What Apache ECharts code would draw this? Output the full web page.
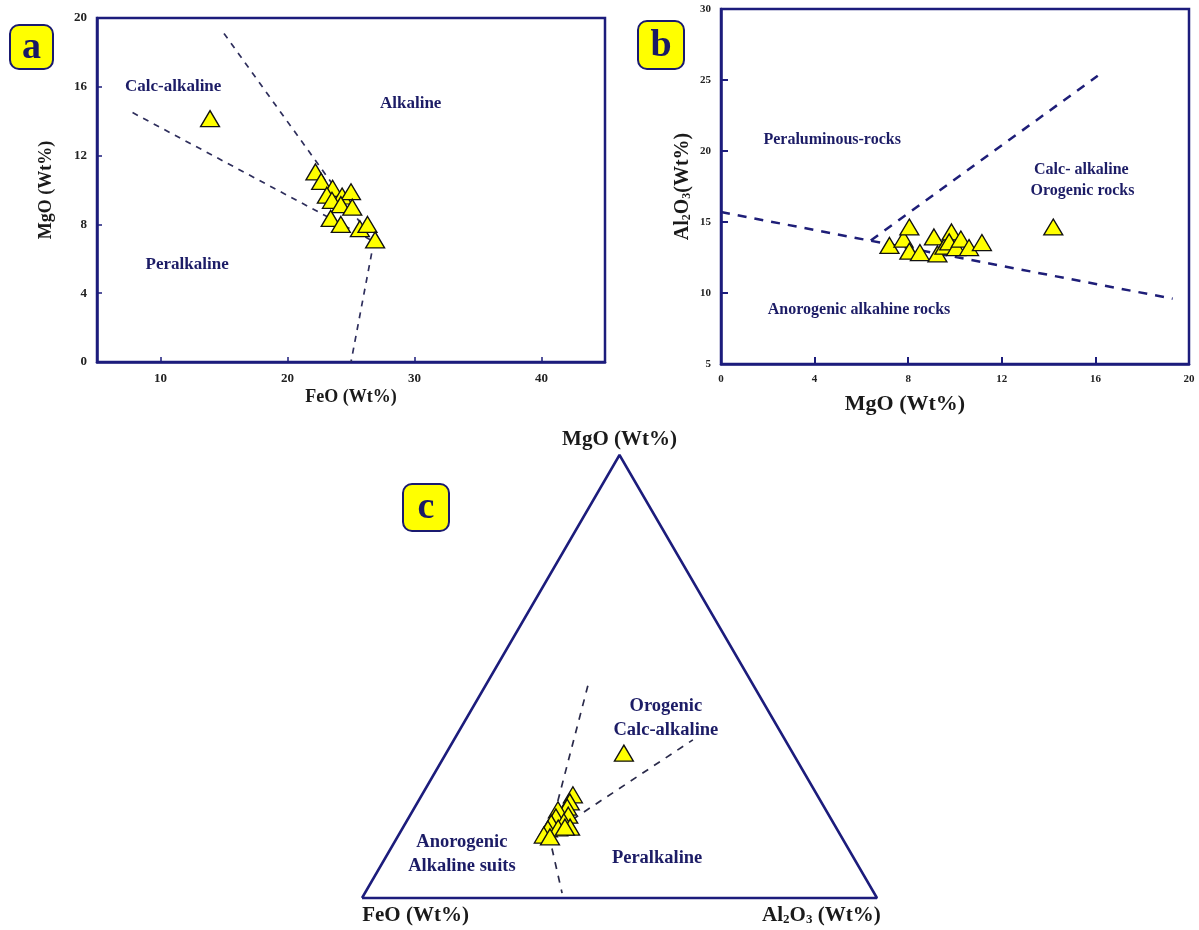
<!DOCTYPE html>
<html><head><meta charset="utf-8">
<script src="https://cdn.jsdelivr.net/npm/echarts@6/dist/echarts.min.js"></script>
<style>html,body{margin:0;padding:0;background:#fff}#c{width:1199px;height:930px}</style>
</head><body><div id="c"></div>
<script>
// ---------- Panel a: FeO vs MgO ----------
const feoA = [22.2, 22.65, 23.55, 23.1, 24.3, 25.0, 23.5, 24.2, 25.1, 23.4, 24.2, 25.7, 26.3, 26.9, 13.9];
const mgoA = [11.05, 10.5, 10.1, 9.7, 9.65, 9.9, 9.4, 9.15, 9.0, 8.35, 8.0, 7.75, 8.0, 7.1, 14.15];
const ticksAX = [10, 20, 30, 40];
const boundaryA1 = [[15, 19.1], [26.8, 7.0]];
const boundaryA2 = [[7.8, 14.5], [26.8, 7.0]];
const boundaryA3 = [[26.8, 7.0], [25, 0]];

// ---------- Panel b: MgO vs Al2O3 ----------
const mgoB = [7.2, 7.8, 8.05, 8.05, 8.5, 9.1, 9.25, 9.55, 9.85, 9.75, 10.05, 10.25, 10.6, 11.15, 14.2];
const al2o3B = [13.35, 13.8, 14.65, 12.95, 12.85, 13.95, 12.75, 13.3, 14.3, 13.6, 13.2, 13.8, 13.2, 13.55, 14.65];
const boundaryB1 = [[0, 15.7], [19.3, 9.6]];
const boundaryB2 = [[6.4, 13.7], [16.1, 25.3]];

// ---------- Panel c: ternary FeO - MgO - Al2O3 (normalised %) ----------
const feoC = [47.4, 48.8, 49.9, 52.0, 50.6, 53.2, 52.2, 54.8, 51.6, 56.1, 54.0, 57.6, 56.6, 52.6, 32.8];
const mgoC = [23.3, 21.7, 20.5, 19.9, 18.7, 18.3, 17.2, 16.9, 16.0, 15.6, 15.8, 14.2, 13.8, 16.0, 32.7];
const al2o3C = [29.3, 29.5, 29.6, 28.1, 30.7, 28.5, 30.6, 28.3, 32.4, 28.3, 30.2, 28.2, 29.6, 31.4, 34.5];
// boundaries as [FeO, MgO, Al2O3]
const boundaryC1 = [[32.2, 47.9, 19.9], [56.6, 14.2, 29.2], [60.6, 1.1, 38.3]];
const boundaryC2 = [[56.6, 14.2, 29.2], [17.9, 35.7, 46.4]];
const triangleC = [[100, 0, 0], [0, 0, 100], [0, 100, 0], [100, 0, 0]];

// ---------- helpers ----------
const SERIF = "'Liberation Serif','Times New Roman',serif";
const NAVY = '#1c1c7c';
const TXT = '#1c1c66';
function tern(fe, mg, al) { const s = fe + mg + al; return [(al + mg / 2) / s, mg / s]; }
function zip(a, b) { return a.map((v, i) => [v, b[i]]); }

const triStyle = { color: '#ffff00', borderColor: '#111', borderWidth: 1.3, opacity: 1 };
function scatter(gi, data) {
  return { type: 'scatter', xAxisIndex: gi, yAxisIndex: gi, data: data, symbol: 'triangle',
    symbolSize: [19, 16], itemStyle: triStyle, z: 5, silent: true, clip: false };
}
function dashed(gi, data, color, width, dash) {
  return { type: 'line', xAxisIndex: gi, yAxisIndex: gi, data: data, symbol: 'none', silent: true,
    lineStyle: { color: color, width: width, type: dash }, z: 3, clip: false };
}
function labels(gi, items, size, lh) {
  return { type: 'scatter', xAxisIndex: gi, yAxisIndex: gi, symbolSize: 0, silent: true, z: 6, clip: false,
    itemStyle: { opacity: 1 },
    data: items.map(it => ({ value: [it[1], it[2]], name: it[0] })),
    label: { show: true, position: 'inside', formatter: p => p.name, fontFamily: SERIF, fontWeight: 'bold',
      fontSize: size, color: TXT, lineHeight: lh || size + 6 } };
}

const labelsA = [['Calc-alkaline', 11.0, 16.0], ['Alkaline', 29.7, 15.05], ['Peralkaline', 12.1, 5.65]];
const labelsB = [['Peraluminous-rocks', 4.75, 20.75], ['Calc- alkaline', 15.4, 18.65], ['Orogenic rocks', 15.45, 17.2], ['Anorogenic alkahine rocks', 5.9, 8.8]];
const labelsC = [['Orogenic\nCalc-alkaline', 0.59, 0.406], ['Peralkaline', 0.573, 0.09], ['Anorogenic\nAlkaline suits', 0.194, 0.099]];

const axisNameStyle = (sz) => ({ fontFamily: SERIF, fontWeight: 'bold', fontSize: sz, color: '#1a1a1a',
  rich: { b: { fontFamily: SERIF, fontWeight: 'bold', fontSize: sz, color: '#1a1a1a' },
          s: { fontFamily: SERIF, fontWeight: 'bold', fontSize: Math.round(sz * 0.62), color: '#1a1a1a', padding: [0, 0, -7, 0] } } });
const tickLbl = (sz, m) => ({ fontFamily: SERIF, fontWeight: 'bold', fontSize: sz, color: '#222', margin: m });
const aLine = { onZero: false, lineStyle: { color: NAVY, width: 2.5 } };

function badge(x, y, w, h, letter) {
  return { type: 'group', left: x, top: y, children: [
    { type: 'rect', shape: { x: 0, y: 0, width: w, height: h, r: 9 }, style: { fill: '#ffff00', stroke: '#1a1a70', lineWidth: 2 } },
    { type: 'text', x: w / 2, y: h / 2 + 1, style: { text: letter, fill: '#1a1a66', font: "bold 38px 'Liberation Serif'", align: 'center', verticalAlign: 'middle' } }
  ] };
}

const option = {
  animation: false,
  backgroundColor: '#fff',
  grid: [
    { left: 97, top: 18, width: 508, height: 344, show: true, borderColor: NAVY, borderWidth: 2.5 },
    { left: 721, top: 9, width: 468, height: 355, show: true, borderColor: NAVY, borderWidth: 2.5 },
    { left: 362, top: 455, width: 515, height: 443, show: false }
  ],
  xAxis: [
    { gridIndex: 0, type: 'value', min: 5, max: 45, name: 'FeO (Wt%)', nameLocation: 'middle', nameGap: 26,
      nameTextStyle: axisNameStyle(18), axisLine: aLine,
      axisTick: { inside: true, length: 5, customValues: ticksAX, lineStyle: { color: NAVY, width: 1.5 } },
      axisLabel: Object.assign({ customValues: ticksAX }, tickLbl(13, 10)), splitLine: { show: false } },
    { gridIndex: 1, type: 'value', min: 0, max: 20, interval: 4, name: 'MgO (Wt%)', nameLocation: 'middle', nameGap: 29,
      nameTextStyle: Object.assign(axisNameStyle(22), { padding: [0, 100, 0, 0] }), axisLine: aLine,
      axisTick: { inside: true, length: 7, lineStyle: { color: NAVY, width: 2 } },
      axisLabel: tickLbl(11, 10), splitLine: { show: false } },
    { gridIndex: 2, type: 'value', min: 0, max: 1, show: false }
  ],
  yAxis: [
    { gridIndex: 0, type: 'value', min: 0, max: 20, interval: 4, name: 'MgO (Wt%)', nameLocation: 'middle', nameGap: 42,
      nameTextStyle: axisNameStyle(18), axisLine: aLine,
      axisTick: { inside: true, length: 5, lineStyle: { color: NAVY, width: 1.5 } },
      axisLabel: tickLbl(13, 10), splitLine: { show: false } },
    { gridIndex: 1, type: 'value', min: 5, max: 30, interval: 5, name: '{b|Al}{s|2}{b|O}{s|3}{b|(Wt%)}', nameLocation: 'middle', nameGap: 28,
      nameTextStyle: axisNameStyle(20), axisLine: aLine,
      axisTick: { inside: true, length: 7, lineStyle: { color: NAVY, width: 2 } },
      axisLabel: tickLbl(11, 10), splitLine: { show: false } },
    { gridIndex: 2, type: 'value', min: 0, max: 1, show: false }
  ],
  graphic: [badge(9, 24, 43, 44, 'a'), badge(637, 20, 46, 48, 'b'), badge(402, 483, 46, 47, 'c')],
  series: [
    dashed(0, boundaryA1, '#2e2e5c', 1.7, [6, 6]),
    dashed(0, boundaryA2, '#2e2e5c', 1.7, [6, 6]),
    dashed(0, boundaryA3, '#2e2e5c', 1.7, [6, 6]),
    scatter(0, zip(feoA, mgoA)),
    labels(0, labelsA, 17),

    dashed(1, boundaryB1, '#1e1e78', 2.5, [9, 8]),
    dashed(1, boundaryB2, '#1e1e78', 2.5, [9, 8]),
    scatter(1, zip(mgoB, al2o3B)),
    labels(1, labelsB, 16),

    { type: 'line', xAxisIndex: 2, yAxisIndex: 2, data: triangleC.map(p => tern(p[0], p[1], p[2])), symbol: 'none', silent: true,
      lineStyle: { color: NAVY, width: 2.5 }, z: 2, clip: false },
    dashed(2, boundaryC1.map(p => tern(p[0], p[1], p[2])), '#2a2a4a', 1.7, [7, 7]),
    dashed(2, boundaryC2.map(p => tern(p[0], p[1], p[2])), '#2a2a4a', 1.7, [7, 7]),
    scatter(2, feoC.map((f, i) => tern(f, mgoC[i], al2o3C[i]))),
    labels(2, labelsC, 18.5, 24),
    { type: 'scatter', xAxisIndex: 2, yAxisIndex: 2, symbolSize: 0, silent: true, clip: false, z: 6,
      itemStyle: { opacity: 1 },
      data: [{ value: [0.5, 1.034], name: '{b|MgO (Wt%)}' }, { value: [0.104, -0.04], name: '{b|FeO (Wt%)}' },
             { value: [0.892, -0.04], name: '{b|Al}{s|2}{b|O}{s|3}{b| (Wt%)}' }],
      label: { show: true, position: 'inside', formatter: p => p.name, rich: axisNameStyle(21).rich } }
  ]
};
const chart = echarts.init(document.getElementById('c'), null, { renderer: 'canvas' });
chart.setOption(option);
</script></body></html>
